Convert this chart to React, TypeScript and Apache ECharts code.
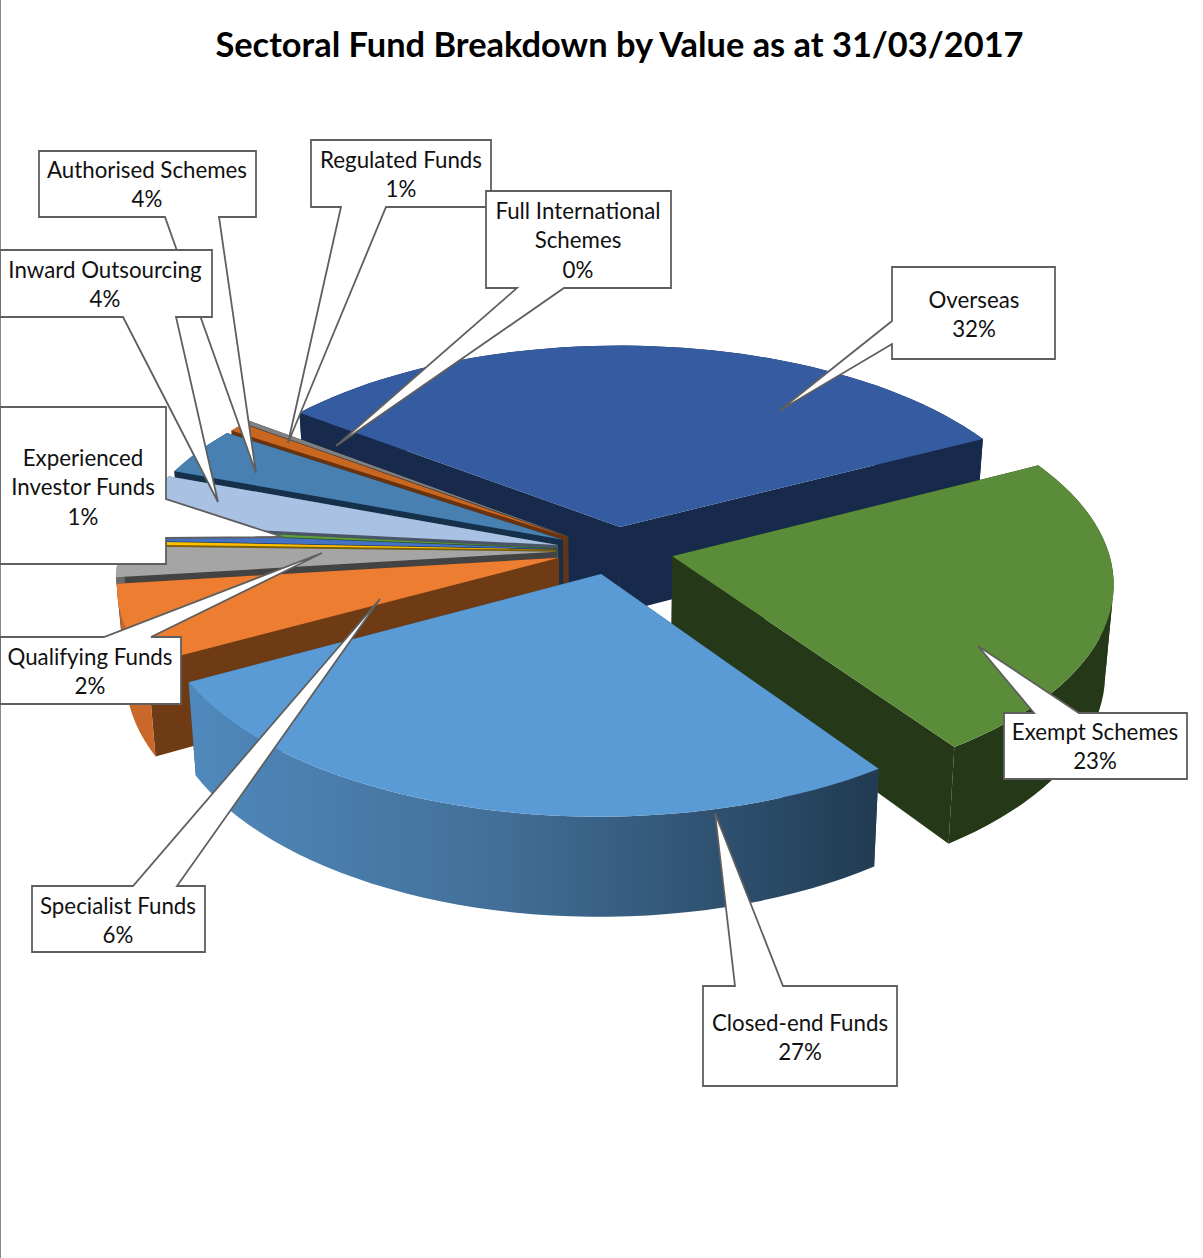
import React, { useEffect, useRef } from "react";
import * as echarts from "echarts";

// ---- data (Excel series order, clockwise from the first slice) ----
const categories = [
  "Closed-end Funds", "Specialist Funds", "Qualifying Funds", "Unlabelled A",
  "Experienced Investor Funds", "Unlabelled B", "Inward Outsourcing", "Authorised Schemes",
  "Regulated Funds", "Full International Schemes", "Overseas", "Exempt Schemes",
];
const values = [26.8, 6.0, 2.35, 0.25, 0.7, 0.3, 4.0, 3.7, 0.7, 0.3, 32.2, 23.0];
const titleText = "Sectoral Fund Breakdown by Value as at 31/03/2017";

// ---- styles ----
const topColors = ["#5B9BD5", "#ED7D31", "#A5A5A5", "#FFC000", "#4472C4", "#5FA03C", "#A9C1E3", "#4880B1", "#C9661F", "#808080", "#355CA0", "#5B8C39"];
const wallColors = ["#2A4A68", "#6E3B15", "#434343", "#7F6000", "#22395F", "#2F5020", "#4A5568", "#15304A", "#6A3310", "#3F3F3F", "#172A4C", "#253817"];
const rimColors = ["", "#C9682A", "#6A6A6A", "#7F6000", "#22395F", "#2F5020", "#A9C1E3", "#15304A", "#6A3310", "#3F3F3F", "#172A4C", "#253817"];
const drawOrder = [10, 9, 8, 7, 6, 5, 4, 3, 2, 1, 11, 0];

// ---- projection of the pie's plane on the page ----
const START_DEG = 145.3;
const CX = 615, CY = 550.5;
const K = 436, KC = 208, PERSP = 0.118;
const EXPLODE_X = 0.135, EXPLODE_Y = 0.115, DEPTH = 87, WALL_SHRINK = 0.983;

const total = values.reduce((a, b) => a + b, 0);
const starts: number[] = [];
values.reduce((acc, v, i) => { starts[i] = acc; return acc + (v / total) * 360; }, START_DEG);

const project = (u: number, v: number, bottom: boolean): number[] => {
  const w = 1 / (1 - PERSP * v);
  const x = CX + u * K * w;
  const y = CY + v * KC * w;
  if (!bottom) return [x, y];
  return [CX + (x - CX) * WALL_SHRINK, y + DEPTH * w];
};

function renderSlice(_: any, api: any) {
  const i = api.value(0) as number;
  const a0 = (starts[i] * Math.PI) / 180;
  const span = (values[i] / total) * 2 * Math.PI;
  const mid = a0 + span / 2;
  const ax = EXPLODE_X * Math.sin(mid), ay = -EXPLODE_Y * Math.cos(mid);
  const steps = Math.max(4, Math.ceil((values[i] / total) * 160));
  const uv: number[][] = [];
  for (let s = 0; s <= steps; s++) {
    const t = a0 + (span * s) / steps;
    uv.push([ax + Math.sin(t), ay - Math.cos(t)]);
  }
  const arcTop = uv.map((p) => project(p[0], p[1], false));
  const arcBot = uv.map((p) => project(p[0], p[1], true));
  const apexTop = project(ax, ay, false);
  const apexBot = project(ax, ay, true);
  const poly = (points: number[][], fill: any) => ({
    type: "polygon", shape: { points }, silent: true, style: { fill, stroke: "none" },
  });
  const children: any[] = [
    poly([apexTop, arcTop[0], arcBot[0], apexBot], wallColors[i]),
    poly([apexTop, arcTop[steps], arcBot[steps], apexBot], wallColors[i]),
  ];
  const band = (from: number, to: number) =>
    [...arcTop.slice(from, to + 1), ...arcBot.slice(from, to + 1).reverse()];
  if (i === 0) {
    children.push(poly(band(0, steps), new echarts.graphic.LinearGradient(0, 0, 1, 0, [
      { offset: 0, color: "#5089BC" },
      { offset: 0.45, color: "#426F98" },
      { offset: 1, color: "#213B52" },
    ])));
  } else {
    // split the outer wall where it turns round the pie's side, so its silhouette stays filled
    let fold = 0;
    arcTop.forEach((p, s) => { if (Math.abs(p[0] - CX) > Math.abs(arcTop[fold][0] - CX)) fold = s; });
    children.push(poly(band(0, fold), rimColors[i]));
    children.push(poly(band(fold, steps), rimColors[i]));
  }
  children.push(poly([apexTop, ...arcTop], topColors[i]));
  return { type: "group", children };
}

// ---- callouts: [left, top, right, bottom], wedge base/tip, text centre ----
type Callout = { cat: number; lines: string[]; box: number[]; wedge: number[][]; side: string; tx: number; ty: number };
const callouts: Callout[] = [
  { cat: 8, lines: ["Regulated Funds"], box: [311, 140, 491, 207], wedge: [[386, 207], [288, 443], [341, 207]], side: "b", tx: 401, ty: 159 },
  { cat: 9, lines: ["Full International", "Schemes"], box: [486, 191, 671, 288], wedge: [[564, 288], [336, 446], [517, 288]], side: "b", tx: 578, ty: 210 },
  { cat: 7, lines: ["Authorised Schemes"], box: [39, 151, 256, 217], wedge: [[219, 217], [256, 473], [165, 217]], side: "b", tx: 147, ty: 169 },
  { cat: 6, lines: ["Inward Outsourcing"], box: [0, 250, 212, 317], wedge: [[176, 317], [218, 502], [123, 317]], side: "b", tx: 105, ty: 269 },
  { cat: 4, lines: ["Experienced", "Investor Funds"], box: [0, 407, 166, 564], wedge: [[166, 499], [283, 537], [166, 538]], side: "r", tx: 83, ty: 457 },
  { cat: 10, lines: ["Overseas"], box: [892, 267, 1055, 359], wedge: [[892, 321], [779, 411], [892, 344]], side: "l", tx: 974, ty: 299 },
  { cat: 11, lines: ["Exempt Schemes"], box: [1004, 713, 1187, 779], wedge: [[1034, 713], [978, 646], [1079, 713]], side: "t", tx: 1095, ty: 731 },
  { cat: 0, lines: ["Closed-end Funds"], box: [703, 986, 897, 1086], wedge: [[735, 986], [715, 813], [783, 986]], side: "t", tx: 800, ty: 1022 },
  { cat: 1, lines: ["Specialist Funds"], box: [32, 886, 205, 952], wedge: [[133, 886], [380, 599], [177, 886]], side: "t", tx: 118, ty: 905 },
  { cat: 2, lines: ["Qualifying Funds"], box: [0, 637, 181, 704], wedge: [[104, 637], [322, 553], [151, 637]], side: "t", tx: 90, ty: 656 },
];
const LABEL_FONT = "22.3px Lato";
const LINE_H = 29.5;

function calloutOutline(c: Callout): number[][] {
  const [l, t, r, b] = c.box;
  const w = c.wedge;
  if (c.side === "b") return [[l, t], [r, t], [r, b], w[0], w[1], w[2], [l, b]];
  if (c.side === "t") return [[l, t], w[0], w[1], w[2], [r, t], [r, b], [l, b]];
  if (c.side === "l") return [[l, t], [r, t], [r, b], [l, b], w[2], w[1], w[0]];
  return [[l, t], [r, t], w[0], w[1], w[2], [r, b], [l, b]];
}

function calloutGraphics() {
  const els: any[] = [];
  callouts.forEach((c, n) => {
    const z = 10 + n * 2;
    els.push({
      type: "polygon", z, silent: true, shape: { points: calloutOutline(c) },
      style: { fill: "#FFFFFF", stroke: "#5F5F5F", lineWidth: 1.8 },
    });
    const pct = `${Math.round((values[c.cat] / total) * 100)}%`;
    [...c.lines, pct].forEach((line, j) => {
      els.push({
        type: "text", z: z + 1, silent: true,
        style: { text: line, x: c.tx, y: c.ty + j * LINE_H, font: LABEL_FONT, fill: "#111111", align: "center", verticalAlign: "middle" },
      });
    });
  });
  return els;
}

export default function App() {
  const ref = useRef<HTMLDivElement>(null);
  useEffect(() => {
    document.body.style.margin = "0";
    const chart = echarts.init(ref.current!, undefined, { renderer: "svg" });
    chart.setOption({
      animation: false,
      backgroundColor: "#FFFFFF",
      title: {
        text: titleText, left: 614.5, top: 21, textAlign: "center",
        textStyle: { fontFamily: "Lato", fontWeight: "bold", fontSize: 34.4, color: "#000000" },
      },
      series: [{
        type: "custom", coordinateSystem: "none", silent: true,
        encode: { value: 0 },
        data: drawOrder.map((i) => ({ name: categories[i], value: [i, values[i]] })),
        renderItem: renderSlice,
      }],
      graphic: [
        { type: "rect", z: 9, silent: true, shape: { x: 0, y: 0, width: 1, height: 1258 }, style: { fill: "#8A8A8A" } },
        ...calloutGraphics(),
      ],
    });
    return () => chart.dispose();
  }, []);
  return <div ref={ref} style={{ width: 1203, height: 1258 }} />;
}
